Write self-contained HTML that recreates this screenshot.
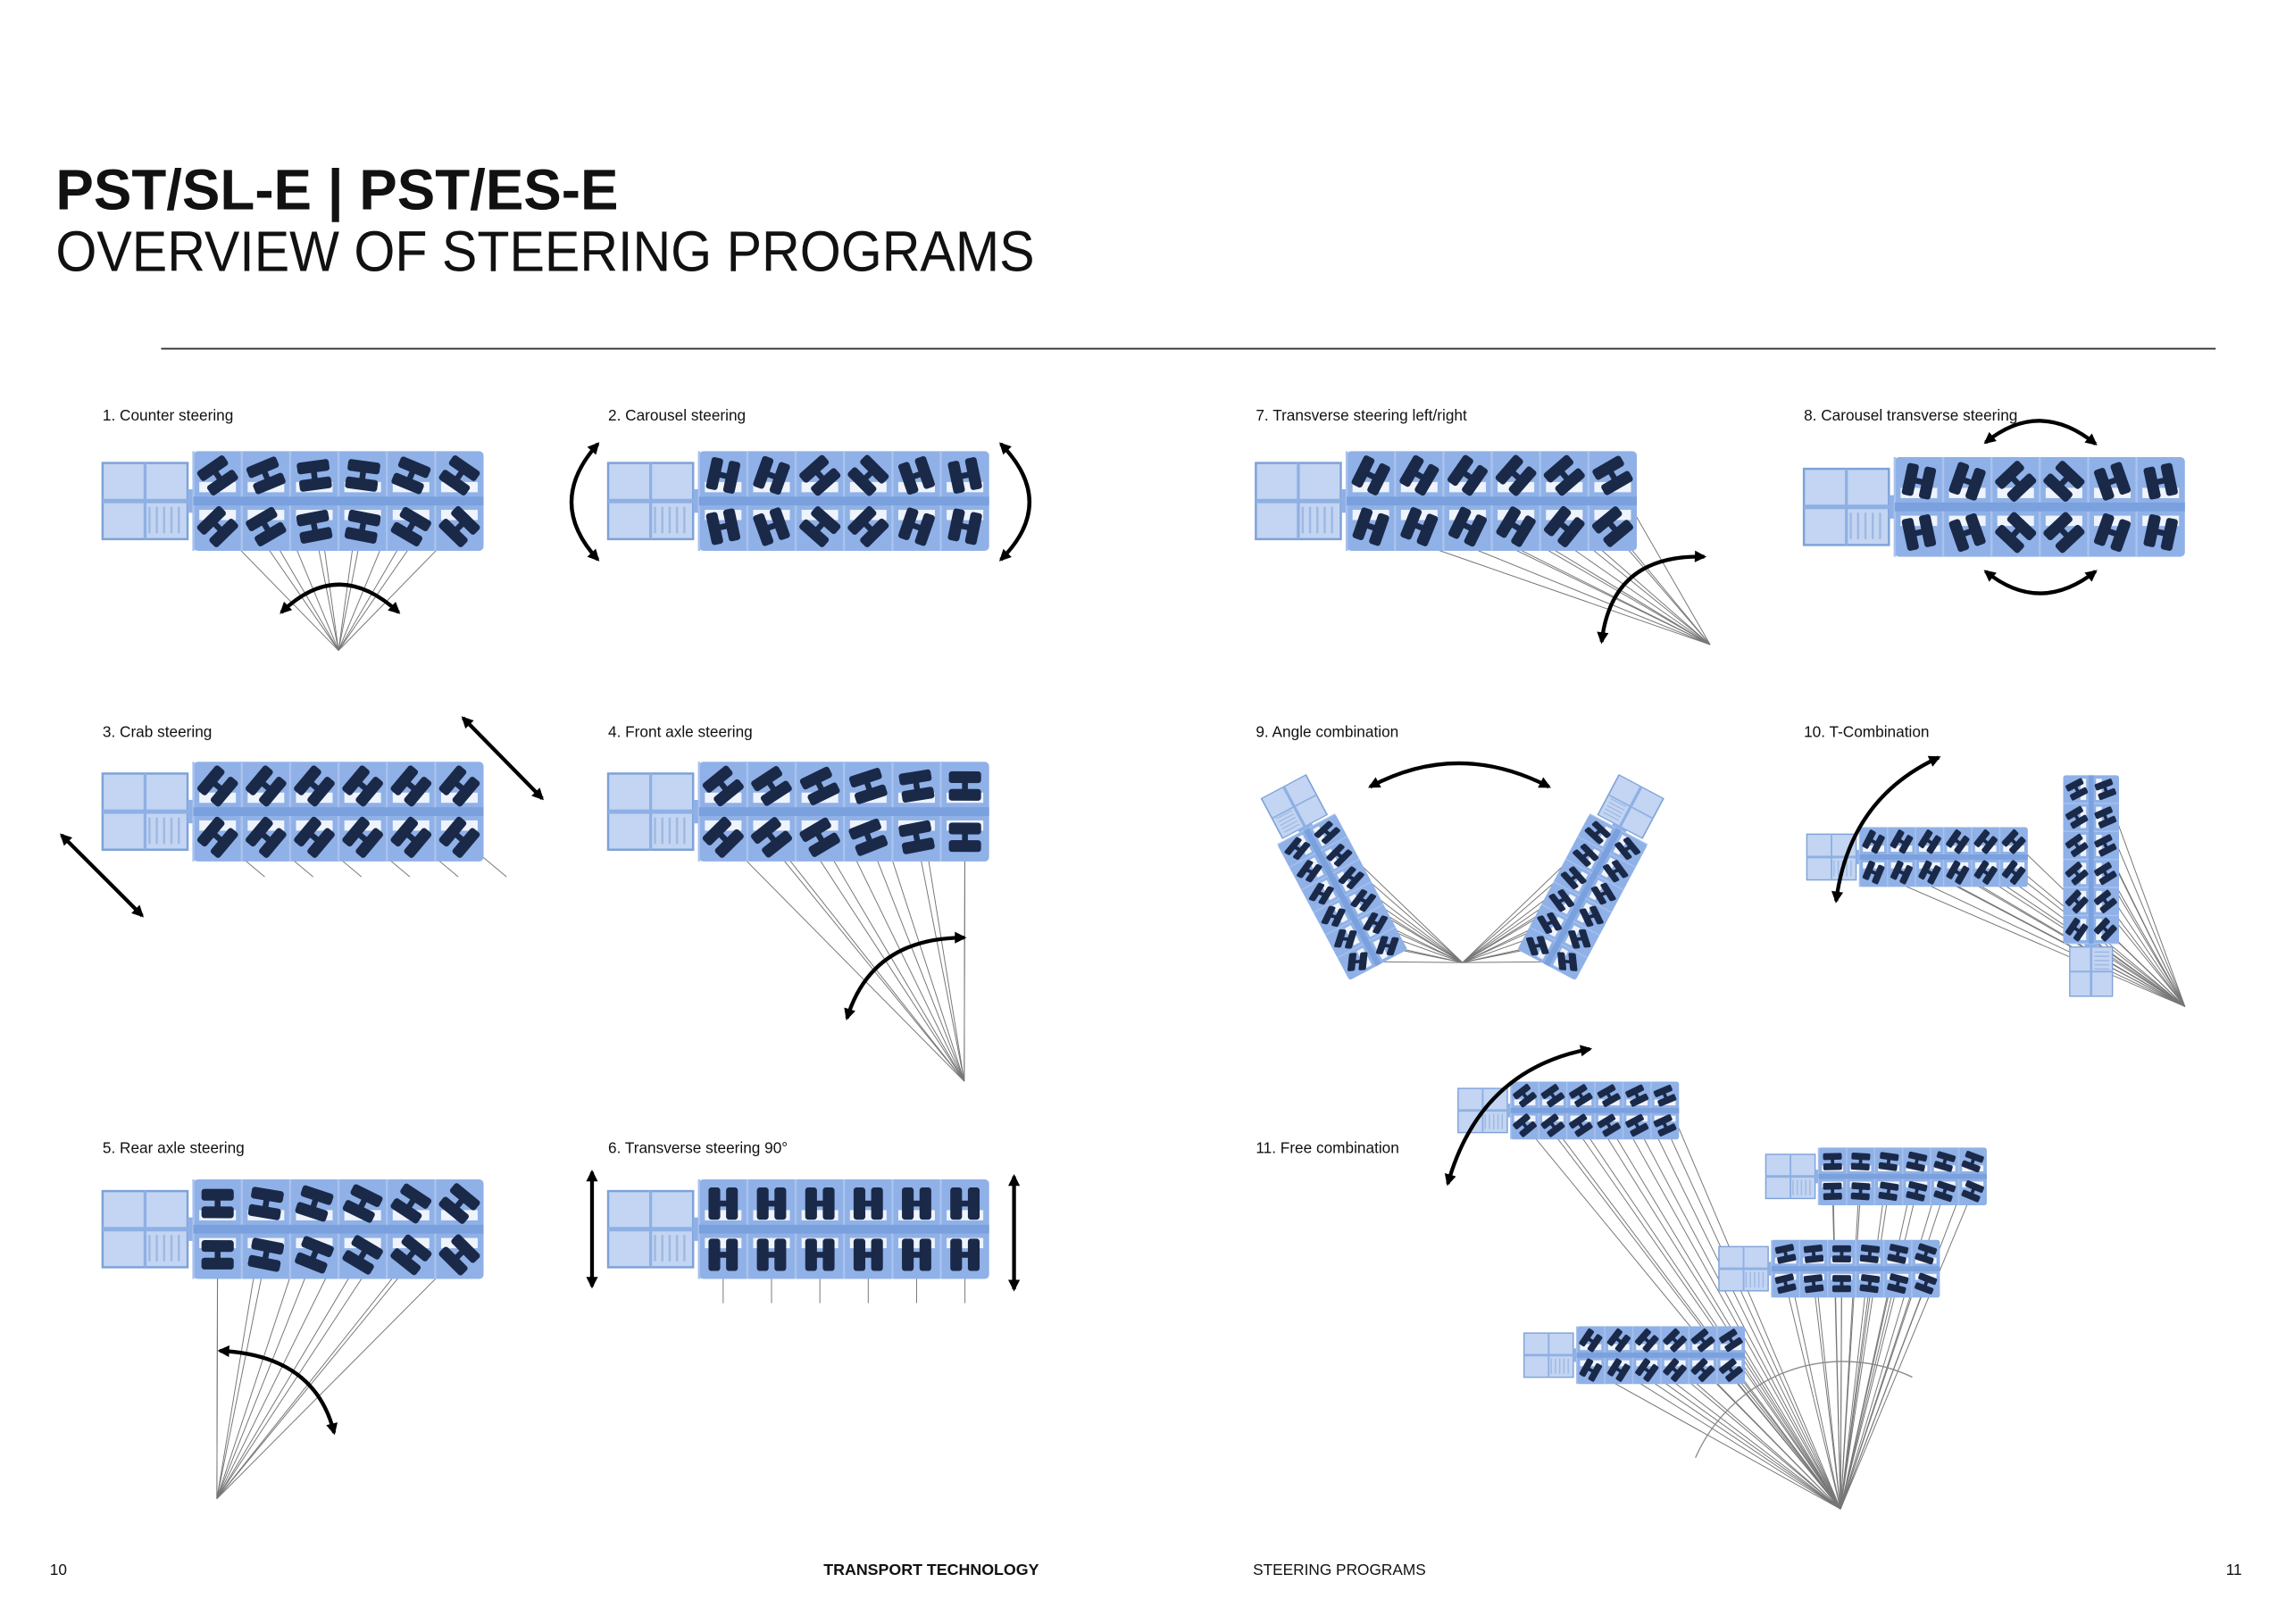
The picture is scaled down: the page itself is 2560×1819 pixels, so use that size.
<!DOCTYPE html>
<html><head><meta charset="utf-8"><style>
html,body{margin:0;padding:0;background:#fff;}
svg{display:block;}
text{font-family:"Liberation Sans",sans-serif;fill:#111;}
</style></head><body>
<svg id="s" width="2560" height="1819" viewBox="0 0 1560 1108.5" preserveAspectRatio="none" xmlns="http://www.w3.org/2000/svg">
<defs>
<marker id="ah" viewBox="0 0 10 10" refX="8" refY="5" markerWidth="9" markerHeight="8" markerUnits="userSpaceOnUse" orient="auto-start-reverse"><path d="M0,0 L10,5 L0,10 z" fill="#000"/></marker>
</defs>
<rect width="1560" height="1108.5" fill="#fff"/>
<text x="38" y="143" font-size="39" font-weight="bold" textLength="384" lengthAdjust="spacingAndGlyphs">PST/SL-E | PST/ES-E</text>
<text x="38" y="185" font-size="39" textLength="668" lengthAdjust="spacingAndGlyphs">OVERVIEW OF STEERING PROGRAMS</text>
<line x1="110" y1="238" x2="1512" y2="238" stroke="#333" stroke-width="1.2"/>
<g font-size="10.5">
<text x="70" y="287">1. Counter steering</text>
<text x="415" y="287">2. Carousel steering</text>
<text x="857" y="287">7. Transverse steering left/right</text>
<text x="1231" y="287">8. Carousel transverse steering</text>
<text x="70" y="503">3. Crab steering</text>
<text x="415" y="503">4. Front axle steering</text>
<text x="857" y="503">9. Angle combination</text>
<text x="1231" y="503">10. T-Combination</text>
<text x="70" y="787">5. Rear axle steering</text>
<text x="415" y="787">6. Transverse steering 90°</text>
<text x="857" y="787">11. Free combination</text>
<text x="34" y="1075">10</text>
<text x="562" y="1075" font-weight="bold" textLength="147" lengthAdjust="spacingAndGlyphs">TRANSPORT TECHNOLOGY</text>
<text x="855" y="1075" textLength="118" lengthAdjust="spacingAndGlyphs">STEERING PROGRAMS</text>
<text x="1519" y="1075">11</text>
</g>
<g id="lines"></g>
<g id="veh"></g>
<g fill="none" stroke="#000" stroke-width="2.6" marker-start="url(#ah)" marker-end="url(#ah)">
<path d="M192,418 Q231,380 272,418"/>
<path d="M408,303 Q372,343 408,382"/>
<path d="M683,303 Q722,343 683,382"/>
<path d="M1093,438 Q1100,378 1163,380"/>
<path d="M1355,302 Q1392,272 1430,303"/>
<path d="M1355,390 Q1392,420 1430,390"/>
<path d="M42,570 L97,625"/>
<path d="M316,490 L370,545"/>
<path d="M578,695 Q595,640 658,640"/>
<path d="M935,537 Q995,505 1057,537"/>
<path d="M1253,615 Q1262,545 1323,517"/>
<path d="M150,922 Q215,925 228,978"/>
<path d="M404,800 L404,878"/>
<path d="M692,803 L692,880"/>
<path d="M988,808 Q1010,730 1085,716"/>
</g>
<path d="M1157,995 A110,110 0 0 1 1305,940" fill="none" stroke="#888" stroke-width="0.8"/>
</svg>
<script>
var NS="http://www.w3.org/2000/svg";
var LG=document.getElementById('lines'),VG=document.getElementById('veh');
function el(t,a,p){var e=document.createElementNS(NS,t);for(var k in a)e.setAttribute(k,a[k]);p.appendChild(e);return e;}
function veh(cx,cy,sx,sy,rot,o){
 var r=rot*Math.PI/180,c=Math.cos(r),sn=Math.sin(r);
 var g=el('g',{transform:'translate('+cx+','+cy+') rotate('+rot+') scale('+sx+','+sy+')'},VG);
 el('rect',{x:0,y:-26,width:58,height:52,fill:'#c3d5f2',stroke:'#7ea2d8','stroke-width':1.5},g);
 el('line',{x1:29,y1:-26,x2:29,y2:26,stroke:'#8eb0e4','stroke-width':2},g);
 el('line',{x1:0,y1:0,x2:58,y2:0,stroke:'#8eb0e4','stroke-width':3},g);
 for(var k=0;k<5;k++)el('line',{x1:32+k*5,y1:4,x2:32+k*5,y2:22,stroke:'#9fb9e2','stroke-width':1.5},g);
 el('rect',{x:58,y:-8,width:4,height:16,fill:'#8eb0e6'},g);
 el('rect',{x:62,y:-34,width:198,height:68,fill:'#8fb1e7',rx:3},g);
 for(var i=0;i<6;i++){
  var mx=62+i*33;
  el('rect',{x:mx+4,y:-13,width:25,height:7,fill:'#eef3fc'},g);
  el('rect',{x:mx+4,y:6,width:25,height:7,fill:'#eef3fc'},g);
  el('line',{x1:mx,y1:-34,x2:mx,y2:34,stroke:'#a9c2ee','stroke-width':1.5},g);
 }
 el('rect',{x:62,y:-3,width:198,height:6,fill:'#7aa0dd'},g);
 for(var i=0;i<6;i++){
  for(var j=0;j<2;j++){
   var lx=62+16.5+i*33, ly=j?17.5:-17.5;
   var wx=cx+(sx*lx*c-sy*ly*sn), wy=cy+(sx*lx*sn+sy*ly*c);
   var wa;
   if(o.icr){wa=Math.atan2(o.icr[1]-wy,o.icr[0]-wx)*180/Math.PI-90;}
   else wa=o.wa;
   var la=wa-rot; while(la>90)la-=180; while(la<=-90)la+=180;
   var w=el('g',{transform:'translate('+lx+','+ly+') rotate('+la+')'},g);
   el('rect',{x:-11,y:-10,width:22,height:8,rx:2,fill:'#1b2949'},w);
   el('rect',{x:-11,y:2,width:22,height:8,rx:2,fill:'#1b2949'},w);
   el('rect',{x:-2,y:-3,width:4,height:6,fill:'#1b2949'},w);
   if(o.icr){el('line',{x1:wx,y1:wy,x2:o.icr[0],y2:o.icr[1],stroke:'#777','stroke-width':0.6},LG);}
   else if(o.dir!==undefined && j==1){var d=o.dir*Math.PI/180;
     el('line',{x1:wx+o.off*Math.cos(d),y1:wy+o.off*Math.sin(d),x2:wx+(o.off+o.len)*Math.cos(d),y2:wy+(o.off+o.len)*Math.sin(d),stroke:'#777','stroke-width':0.6},LG);}
  }
 }
}
veh(70,342,1,1,0,{icr:[231,444]});
veh(415,342,1,1,0,{icr:[575,342]});
veh(857,342,1,1,0,{icr:[1167,440]});
veh(1231,346,1,1,0,{icr:[1392,346]});
veh(70,554,1,1,0,{wa:-50,dir:40,off:12,len:30});
veh(415,554,1,1,0,{icr:[658,738]});
veh(70,839,1,1,0,{icr:[148,1023]});
veh(415,839,1,1,0,{wa:90,dir:90,off:15,len:18});
veh(876,537,0.53,0.66,62,{icr:[998,657]});
veh(1120,537,0.53,0.66,118,{icr:[998,657]});
veh(1233,585,0.58,0.6,0,{icr:[1491,687]});
veh(1427,680,0.58,0.56,-90,{icr:[1491,687]});
veh(995,758,0.58,0.58,0,{icr:[1256,1030]});
veh(1205,803,0.58,0.58,0,{icr:[1256,1030]});
veh(1173,866,0.58,0.58,0,{icr:[1256,1030]});
veh(1040,925,0.58,0.58,0,{icr:[1256,1030]});
</script>
</body></html>
